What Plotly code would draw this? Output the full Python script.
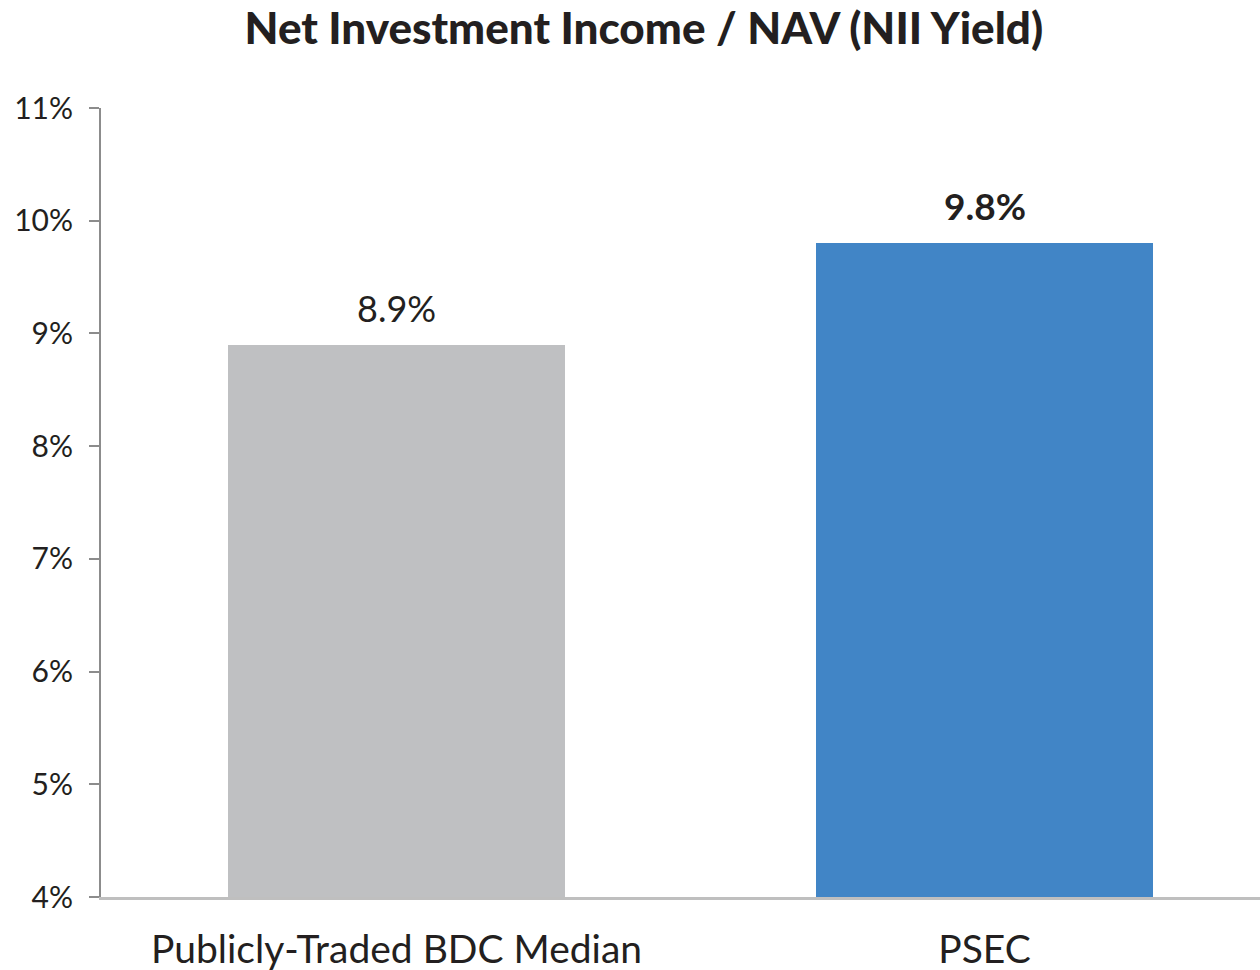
import plotly.graph_objects as go

categories = ["Publicly-Traded BDC Median", "PSEC"]
values = [8.9, 9.8]
colors = ["#bfc0c2", "#4185c6"]
label_bold = [False, True]
tick_vals = [4, 5, 6, 7, 8, 9, 10, 11]
tick_text = ["4%", "5%", "6%", "7%", "8%", "9%", "10%", "11%"]

FONT = "Lato, Open Sans, sans-serif"

fig = go.Figure()
fig.add_trace(go.Bar(
    x=categories, y=values, marker_color=colors, width=0.573,
    marker_line_width=0, hoverinfo="skip", showlegend=False,
))

for c, v, b in zip(categories, values, label_bold):
    t = f"{v:.1f}%"
    fig.add_annotation(x=c, y=v, text=f"<b>{t}</b>" if b else t, showarrow=False,
                       yanchor="bottom", yshift=13,
                       font=dict(family=FONT, size=37 if b else 36, color="#231f20"))

fig.update_layout(
    width=1260, height=970,
    margin=dict(l=101, r=0, t=108, b=73, autoexpand=False),
    paper_bgcolor="white", plot_bgcolor="white",
    title=dict(text="Net Investment Income / NAV (NII Yield)", x=0.511, xanchor="center",
               y=0.971, yanchor="middle",
               font=dict(family=FONT, size=44, color="#231f20", weight=900)),
    xaxis=dict(range=[-0.5026, 1.4685], showline=True, linecolor="#bfbfbf", linewidth=3,
               ticks="", showgrid=False, ticklabelstandoff=16, automargin=False,
               tickfont=dict(family=FONT, size=39, color="#231f20")),
    yaxis=dict(range=[4, 11], tickvals=tick_vals, ticktext=tick_text, showgrid=False,
               zeroline=False, showline=True, linecolor="#8c8c8c", linewidth=2,
               ticks="outside", ticklen=10, tickcolor="#8c8c8c", tickwidth=2,
               ticklabelstandoff=10, automargin=False,
               tickfont=dict(family=FONT, size=30, color="#231f20")),
    bargap=0,
)

fig.write_html("out.html", config={"displayModeBar": False},
               post_script="document.body.style.margin='0';document.body.style.overflow='hidden';")
